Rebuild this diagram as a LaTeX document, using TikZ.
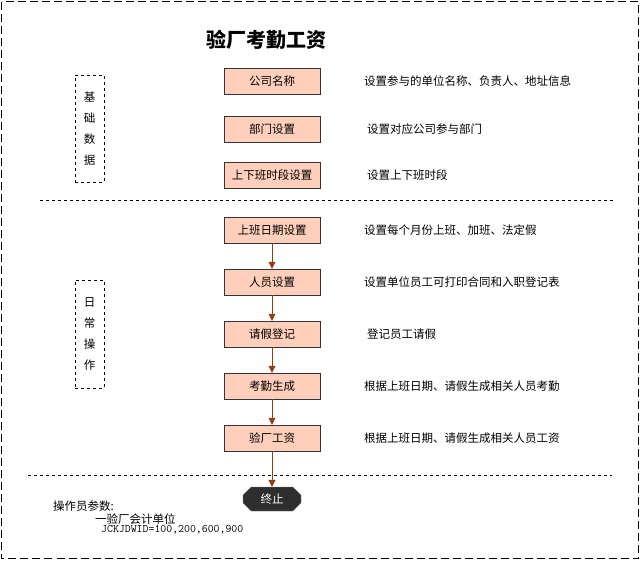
\documentclass[tikz,border=0pt]{standalone}
\usepackage{fontspec}
\newfontfamily\cjk{Noto Sans CJK SC}
\usetikzlibrary{shapes.misc,arrows.meta}
\definecolor{rust}{RGB}{150,60,20}
\begin{document}
\begin{tikzpicture}[x=1pt,y=-1pt,font=\cjk\fontsize{11.5}{13}\selectfont,
 box/.style={draw=black!80,fill=orange!25!pink!60,minimum width=96pt,minimum height=26pt,inner sep=0},
 desc/.style={anchor=west,inner sep=0},
 side/.style={draw,dashed,minimum width=29pt,inner sep=0,align=center},
 arr/.style={draw=rust,-{Triangle[length=7pt,width=7pt]}}]
\useasboundingbox (0,0) rectangle (640,560);
\draw[dashed,line width=1pt,dash pattern=on 8pt off 4pt] (1.5,1.5) rectangle (638.5,558.5);
\node[font=\cjk\bfseries\fontsize{20}{22}\selectfont] (t) at (266,40) {验厂考勤工资};
\node[box] (a) at (272,81) {公司名称};
\node[box] (b) at (272,129) {部门设置};
\node[box] (c) at (272,175) {上下班时段设置};
\node[box] (d) at (272,230) {上班日期设置};
\node[box] (e) at (272,282) {人员设置};
\node[box] (f) at (272,334) {请假登记};
\node[box] (g) at (272,386) {考勤生成};
\node[box] (h) at (272,438) {验厂工资};
\node[chamfered rectangle,chamfered rectangle xsep=6pt,fill=black!82,draw=black!50,text=white,minimum width=58pt,minimum height=24pt,inner sep=0] (z) at (272,499) {终止};
\foreach \p/\q in {d/e,e/f,f/g,g/h,h/z} \draw[arr] (\p) -- (\q);
\node[desc] (da) at (364,81) {设置参与的单位名称、负责人、地址信息};
\node[desc] (db) at (367,129) {设置对应公司参与部门};
\node[desc] (dc) at (367,175) {设置上下班时段};
\node[desc] (dd) at (364,230) {设置每个月份上班、加班、法定假};
\node[desc] (de) at (364,282) {设置单位员工可打印合同和入职登记表};
\node[desc] (df) at (367,334) {登记员工请假};
\node[desc] (dg) at (364,386) {根据上班日期、请假生成相关人员考勤};
\node[desc] (dh) at (364,438) {根据上班日期、请假生成相关人员工资};
\node[side,minimum height=107pt] (s1) at (89.5,128.5) {基\\[8pt]础\\[8pt]数\\[8pt]据};
\node[side,minimum height=108pt] (s2) at (89.5,334) {日\\[8pt]常\\[8pt]操\\[8pt]作};
\draw[dashed] (40,200) -- (615,200);
\draw[dashed] (28,475) -- (612,475);
\node[desc] (p1) at (53,506) {操作员参数:};
\node[desc] (p2) at (95,519) {一验厂会计单位};
\node[desc,font=\ttfamily\fontsize{11.5}{12}\selectfont] (p3) at (101,530) {JCKJDWID=100,200,600,900};
\end{tikzpicture}
\end{document}
